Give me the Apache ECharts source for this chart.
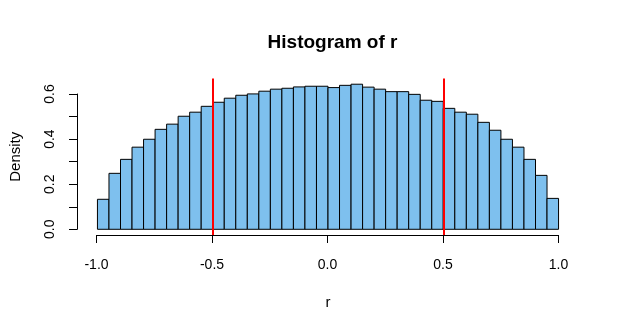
<!DOCTYPE html>
<html>
<head>
<meta charset="utf-8">
<script src="https://cdn.jsdelivr.net/npm/echarts@6/dist/echarts.min.js"></script>
<style>
  html, body { margin: 0; padding: 0; background: #fff; }
  #chart { width: 618px; height: 333px; }
</style>
</head>
<body>
<div id="chart"></div>
<script>
// Bin edges of the histogram (width 0.05 from -1 to 1)
const breaks = [
  -1.00, -0.95, -0.90, -0.85, -0.80, -0.75, -0.70, -0.65, -0.60, -0.55,
  -0.50, -0.45, -0.40, -0.35, -0.30, -0.25, -0.20, -0.15, -0.10, -0.05,
   0.00,  0.05,  0.10,  0.15,  0.20,  0.25,  0.30,  0.35,  0.40,  0.45,
   0.50,  0.55,  0.60,  0.65,  0.70,  0.75,  0.80,  0.85,  0.90,  0.95,
   1.00
];
// Density of each bin
const density = [
  0.133, 0.248, 0.310, 0.364, 0.399, 0.443, 0.466, 0.501, 0.519, 0.545,
  0.563, 0.581, 0.594, 0.600, 0.612, 0.621, 0.625, 0.631, 0.634, 0.634,
  0.628, 0.638, 0.643, 0.630, 0.621, 0.610, 0.610, 0.598, 0.572, 0.567,
  0.536, 0.519, 0.510, 0.474, 0.439, 0.399, 0.364, 0.310, 0.239, 0.137
];
// Reference lines
const vlines = [-0.5, 0.5];
// Axis tick values
const xTicks = [-1.0, -0.5, 0.0, 0.5, 1.0];
const yTickLabels = [0.0, 0.2, 0.4, 0.6];

const FONT = 'Liberation Sans, Arial, sans-serif';

const bins = density.map((d, i) => [breaks[i], breaks[i + 1], d]);

// Plot region extends 4% beyond the data range on each side
const xr = breaks[breaks.length - 1] - breaks[0];
const ymax = Math.max(...density);
const plotXMin = breaks[0] - 0.04 * xr;
const plotXMax = breaks[breaks.length - 1] + 0.04 * xr;
const plotYMin = -0.04 * ymax;
const plotYMax = ymax * 1.04;

const chart = echarts.init(document.getElementById('chart'), null, { renderer: 'canvas' });

const option = {
  backgroundColor: '#ffffff',
  animation: false,
  title: {
    text: 'Histogram of r',
    left: 327.5,
    textAlign: 'center',
    top: 28,
    textStyle: { fontFamily: FONT, fontSize: 19, fontWeight: 'bold', color: '#000' }
  },
  grid: [
    // plot region holding the bars and reference lines
    { left: 78, right: 41, top: 78.4, bottom: 97.9 },
    // x axis spanning the first to last tick
    { left: 96.5, right: 59.5, top: 234, height: 1 },
    // y axis spanning the first to last tick
    { left: 77, width: 1, top: 94, bottom: 103.7 }
  ],
  xAxis: [
    {
      gridIndex: 0, type: 'value', min: plotXMin, max: plotXMax,
      axisLine: { show: false }, axisTick: { show: false },
      axisLabel: { show: false }, splitLine: { show: false },
      name: 'r', nameLocation: 'middle', nameGap: 60,
      nameTextStyle: { fontFamily: FONT, fontSize: 15, color: '#000' }
    },
    {
      gridIndex: 1, type: 'value', min: xTicks[0], max: xTicks[xTicks.length - 1],
      interval: 0.5, position: 'bottom',
      axisLine: { show: true, lineStyle: { color: '#000', width: 1 } },
      axisTick: { show: true, length: 8, lineStyle: { color: '#000', width: 1 } },
      splitLine: { show: false },
      axisLabel: {
        margin: 23, fontFamily: FONT, fontSize: 14, color: '#000',
        formatter: v => (v < 0 ? '-' : '') + Math.abs(v).toFixed(1)
      }
    },
    { gridIndex: 2, type: 'value', min: 0, max: 1, show: false }
  ],
  yAxis: [
    {
      gridIndex: 0, type: 'value', min: plotYMin, max: plotYMax,
      axisLine: { show: false }, axisTick: { show: false },
      axisLabel: { show: false }, splitLine: { show: false },
      name: 'Density', nameLocation: 'middle', nameGap: 56, nameRotate: 90,
      nameTextStyle: { fontFamily: FONT, fontSize: 15, color: '#000' }
    },
    { gridIndex: 1, type: 'value', min: 0, max: 1, show: false },
    {
      gridIndex: 2, type: 'value', min: 0, max: yTickLabels[yTickLabels.length - 1],
      interval: 0.1, position: 'left',
      axisLine: { show: true, lineStyle: { color: '#000', width: 1 } },
      axisTick: { show: true, length: 8, lineStyle: { color: '#000', width: 1 } },
      splitLine: { show: false },
      axisLabel: {
        rotate: 90, margin: 20, fontFamily: FONT, fontSize: 14, color: '#000',
        formatter: v => {
          const hit = yTickLabels.find(t => Math.abs(t - v) < 1e-9);
          return hit === undefined ? '' : hit.toFixed(1);
        }
      }
    }
  ],
  series: [
    {
      type: 'custom',
      xAxisIndex: 0, yAxisIndex: 0,
      data: bins,
      clip: false,
      renderItem: (params, api) => {
        const p0 = api.coord([api.value(0), 0]);
        const p1 = api.coord([api.value(1), api.value(2)]);
        return {
          type: 'rect',
          shape: { x: p0[0], y: p1[1], width: p1[0] - p0[0], height: p0[1] - p1[1] },
          style: { fill: '#7EC0EE', stroke: '#000', lineWidth: 1 }
        };
      },
      z: 2
    },
    {
      type: 'line',
      xAxisIndex: 0, yAxisIndex: 0,
      data: [],
      markLine: {
        silent: true,
        symbol: 'none',
        label: { show: false },
        lineStyle: { color: '#FF0000', width: 2, type: 'solid' },
        data: vlines.map(v => ({ xAxis: v }))
      },
      z: 3
    }
  ]
};

chart.setOption(option);
</script>
</body>
</html>
